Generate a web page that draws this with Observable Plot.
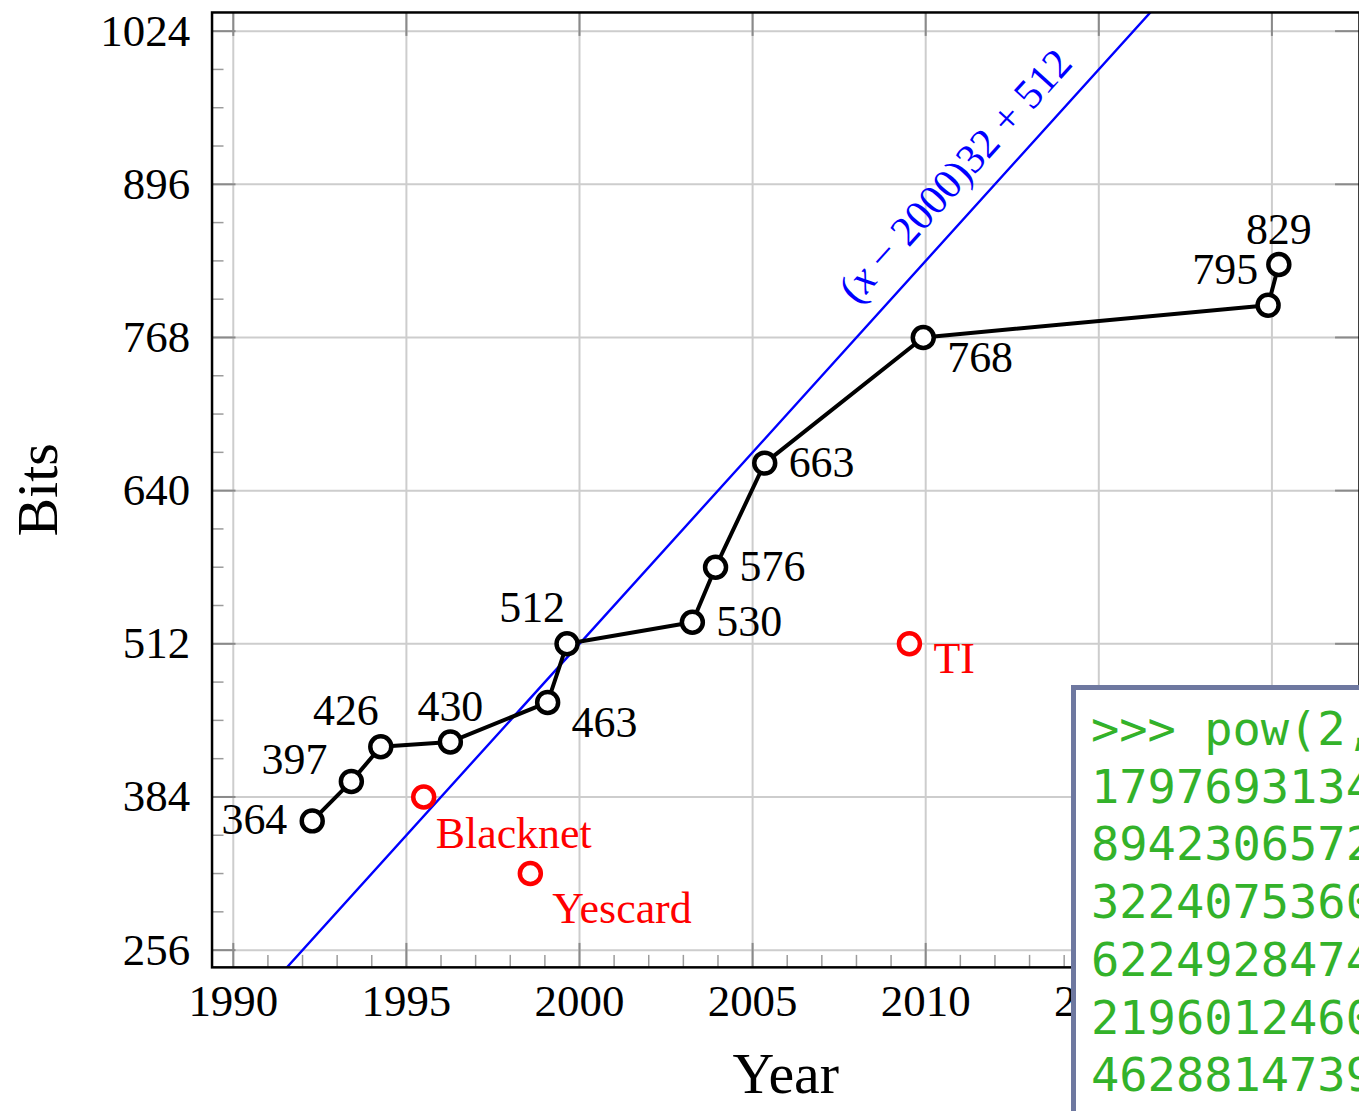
<!DOCTYPE html>
<html>
<head>
<meta charset="utf-8">
<script src="https://cdn.jsdelivr.net/npm/d3@7"></script>
<script src="https://cdn.jsdelivr.net/npm/@observablehq/plot@0.6"></script>
<style>
html, body { margin: 0; padding: 0; overflow: hidden; background: #fff; }
#wrap { position: relative; width: 1359px; height: 1111px; overflow: hidden; background: #fff; }
#chart { position: absolute; left: 0; top: 0; }
#term {
  position: absolute; left: 1071px; top: 685px; width: 1400px; height: 600px;
  box-sizing: border-box; border: 5px solid #6e78a0; background: #fff;
  padding: 10px 0 0 15px;
  font-family: "DejaVu Sans Mono", monospace; font-size: 47px; line-height: 57.7px;
  color: #33b22a; white-space: pre;
}
</style>
</head>
<body>
<div id="wrap"><div id="chart"></div><div id="term"></div></div>
<script>
// ---- data ----
const recordYears = [1992.28, 1993.41, 1994.26, 1996.27, 1999.08, 1999.64, 2003.26, 2003.93, 2005.35, 2009.93, 2019.89, 2020.20];
const recordBits  = [364, 397, 426, 430, 463, 512, 530, 576, 663, 768, 795, 829];
const recordPlacement = ["left", "left above", "above left", "above", "below right", "above left",
                         "right", "right", "right", "below right", "above far left", "above"];

const otherNames = ["Blacknet", "Yescard", "TI"];
const otherYears = [1995.50, 1998.58, 2009.53];
const otherBits  = [384, 320, 512];
const otherPlacement = ["below right", "below right far", "right below"];

const xTicks = [1990, 1995, 2000, 2005, 2010, 2015, 2020];
const xTickLabels = [1990, 1995, 2000, 2005, 2010, 2015]; // 2020 is hidden behind the terminal
const yTicks = [256, 384, 512, 640, 768, 896, 1024];
const xMinorTicks = d3.range(1990, 2023).filter(v => v % 5 !== 0);
const yMinorTicks = d3.range(256, 1040, 32).filter(v => v % 128 !== 0);

const trendLabel = "(x − 2000)32 + 512";
const trend = (x) => (x - 2000) * 32 + 512;

const terminalLines = [
  ">>> pow(2, 1024)",
  "17976931348623",
  "89423065727343",
  "32240753602112",
  "62249284743063",
  "21960124609411",
  "46288147391311"
];

// ---- layout ----
const W = 1362, H = 1111;
const mL = 212, mT = 12, mB = 142, mR = 0;
const frameW = W - mL - mR, frameH = H - mT - mB;
const xDomain = [1989.386, 2022.53];
const yDomain = [241.6, 1039.6];

const records = recordYears.map((x, i) => ({x, y: recordBits[i], label: String(recordBits[i]), place: recordPlacement[i]}));
const others = otherYears.map((x, i) => ({x, y: otherBits[i], label: otherNames[i], place: otherPlacement[i]}));
const trendPts = xDomain.map(x => ({x, y: trend(x)}));

const blackOffsets = {
  "left": [-58, -1], "left above": [-57, -22], "above left": [-35, -36],
  "above far left": [-43, -35], "above": [0, -35], "right": [57, 0], "below right": [57, 21]
};
const redOffsets = {"below right": [12, 37], "below right far": [22, 35], "right below": [24, 15]};

const gridColor = "#cdcdcd", tickColor = "#8a8a8a", minorColor = "#9c9c9c";

const labelMarks = [];
for (const [k, [dx, dy]] of Object.entries(blackOffsets)) {
  labelMarks.push(Plot.text(records.filter(d => d.place === k),
    {x: "x", y: "y", text: "label", dx, dy, fontSize: 44, fill: "black"}));
}
for (const [k, [dx, dy]] of Object.entries(redOffsets)) {
  labelMarks.push(Plot.text(others.filter(d => d.place === k),
    {x: "x", y: "y", text: "label", dx, dy, fontSize: 44, fill: "#ff0000", textAnchor: "start"}));
}

const chart = Plot.plot({
  width: W, height: H,
  marginLeft: mL, marginRight: mR, marginTop: mT, marginBottom: mB,
  style: {fontFamily: "'Liberation Serif', 'Times New Roman', serif", background: "white", color: "black"},
  x: {domain: xDomain},
  y: {domain: yDomain},
  marks: [
    Plot.ruleX(xTicks, {stroke: gridColor, strokeWidth: 2}),
    Plot.ruleY(yTicks, {stroke: gridColor, strokeWidth: 2}),
    Plot.ruleX(xMinorTicks, {stroke: minorColor, strokeWidth: 1.5, insetTop: frameH - 12}),
    Plot.ruleY(yMinorTicks, {stroke: minorColor, strokeWidth: 1.5, insetRight: frameW - 12}),
    Plot.ruleX(xTicks, {stroke: tickColor, strokeWidth: 2, insetTop: frameH - 24}),
    Plot.ruleX(xTicks, {stroke: tickColor, strokeWidth: 2, insetBottom: frameH - 24}),
    Plot.ruleY(yTicks, {stroke: tickColor, strokeWidth: 2, insetRight: frameW - 24}),
    Plot.ruleY(yTicks, {stroke: tickColor, strokeWidth: 2, insetLeft: frameW - 24}),
    Plot.line(trendPts, {x: "x", y: "y", stroke: "#0000ff", strokeWidth: 2.4, clip: true}),
    Plot.text([trendLabel], {x: () => 2010.86, y: () => 903, text: d => d, rotate: -47.9,
      fill: "#0000ff", fontSize: 42}),
    Plot.line(records, {x: "x", y: "y", stroke: "black", strokeWidth: 4}),
    Plot.dot(records, {x: "x", y: "y", r: 10.5, stroke: "black", strokeWidth: 4.5, fill: "white"}),
    Plot.dot(others, {x: "x", y: "y", r: 10.5, stroke: "#ff0000", strokeWidth: 4.5, fill: "white"}),
    ...labelMarks,
    Plot.axisX(xTickLabels, {tickSize: 0, tickPadding: 17, tickFormat: d3.format("d"), fontSize: 45, label: null}),
    Plot.axisY(yTicks, {tickSize: 0, tickPadding: 22, tickFormat: d3.format("d"), fontSize: 45, label: null}),
    Plot.text(["Year"], {text: d => d, frameAnchor: "bottom", textAnchor: "middle", lineAnchor: "bottom", dy: 126, fontSize: 58}),
    Plot.text(["Bits"], {text: d => d, frameAnchor: "left", textAnchor: "middle", lineAnchor: "bottom", rotate: -90, dx: -155, fontSize: 58}),
    Plot.frame({stroke: "black", strokeWidth: 2.5})
  ]
});

// italic x in the trend formula
chart.querySelectorAll("text").forEach(t => {
  if (t.textContent === trendLabel) {
    const ns = "http://www.w3.org/2000/svg";
    while (t.firstChild) t.removeChild(t.firstChild);
    t.appendChild(document.createTextNode("("));
    const it = document.createElementNS(ns, "tspan");
    it.setAttribute("font-style", "italic");
    it.textContent = "x";
    t.appendChild(it);
    t.appendChild(document.createTextNode(" − 2000)32 + 512"));
  }
});

document.getElementById("chart").appendChild(chart);

const term = document.getElementById("term");
terminalLines.forEach(l => {
  const div = document.createElement("div");
  div.textContent = l;
  term.appendChild(div);
});
</script>
</body>
</html>
